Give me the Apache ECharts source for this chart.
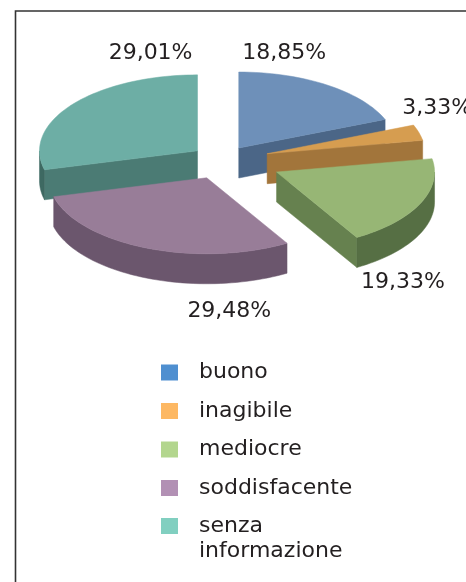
<!DOCTYPE html>
<html>
<head>
<meta charset="utf-8">
<script src="https://cdn.jsdelivr.net/npm/echarts@6/dist/echarts.min.js"></script>
<style>
html, body { margin: 0; padding: 0; background: #fff; }
#chart { width: 466px; height: 582px; }
</style>
</head>
<body>
<div id="chart"></div>
<script>
// dati
const categories = ['buono', 'inagibile', 'mediocre', 'soddisfacente', 'senza informazione']
const shares = [18.85, 3.33, 19.33, 29.48, 29.01]

// colori: faccia superiore, pareti radiali, bordo esterno, legenda
const topColors = ['#6e90b9', '#d69d50', '#97b675', '#987d98', '#6daea5']
const sideColors = ['#4b6687', '#a2753b', '#66814f', '#6b566d', '#4b7b74']
const rimColors = ['#4b6687', '#a2753b', '#566f44', '#6b566d', '#3e6962']
const legendColors = ['#4f8fd0', '#fdb863', '#b3d68e', '#b290b4', '#81cfc0']

// layout della torta 3d (stile, non dati)
const CX = 222, CY = 160, RX = 158, RY = 76, DEPTH = 30
const explode = [30, 47, 60, 40, 31]
const labelAngle = [13, 61, 143, 174, 347]
const labelRadius = [1.28, 1.23, 1.33, 1.37, 1.32]
const drawOrder = [0, 4, 1, 2, 3]

const total = shares.reduce((a, b) => a + b, 0)
const startDeg = []
let acc = 0
shares.forEach(v => { startDeg.push(acc / total * 360); acc += v })

const rad = d => d * Math.PI / 180

// disegna una fetta con pareti e faccia superiore
const renderSlice = (params, api) => {
    const i = params.seriesIndex
    const value = api.value(0)
    const a0 = startDeg[i]
    const a1 = a0 + value / total * 360
    const m = rad((a0 + a1) / 2)
    const cx = CX + explode[i] * Math.sin(m)
    const cy = CY - explode[i] * Math.cos(m) * RY / RX
    const pt = (deg, dz) => [cx + RX * Math.sin(rad(deg)), cy - RY * Math.cos(rad(deg)) + (dz || 0)]
    const arc = (from, to, dz) => {
        const pts = []
        const n = Math.max(2, Math.ceil(Math.abs(to - from) / 2))
        for (let k = 0; k <= n; k++) pts.push(pt(from + (to - from) * k / n, dz))
        return pts
    }
    const children = []
    const poly = (points, fill) => children.push({
        type: 'polygon',
        shape: { points },
        style: { fill, stroke: fill, lineWidth: 0.5 }
    })
    // pareti radiali visibili
    if (Math.sin(rad(a0)) < -1e-6) poly([[cx, cy], pt(a0), pt(a0, DEPTH), [cx, cy + DEPTH]], sideColors[i])
    if (Math.sin(rad(a1)) > 1e-6) poly([[cx, cy], pt(a1), pt(a1, DEPTH), [cx, cy + DEPTH]], sideColors[i])
    // parete esterna (solo metà frontale)
    const f = Math.max(a0, 90), t = Math.min(a1, 270)
    if (t > f) poly(arc(f, t, 0).concat(arc(t, f, DEPTH)), rimColors[i])
    // faccia superiore
    poly([[cx, cy]].concat(arc(a0, a1, 0)), topColors[i])
    // etichetta percentuale
    const la = rad(labelAngle[i])
    const lr = labelRadius[i]
    let ly = cy - lr * RY * Math.cos(la)
    if (Math.cos(la) < 0) ly += DEPTH
    children.push({
        type: 'text',
        x: cx + lr * RX * Math.sin(la),
        y: ly,
        style: {
            text: value.toFixed(2).replace('.', ',') + '%',
            fill: '#231f20',
            font: '22px "DejaVu Sans"',
            align: 'center',
            verticalAlign: 'middle'
        }
    })
    return { type: 'group', children }
}

const legendBase = {
    orient: 'vertical',
    left: 161,
    padding: 0,
    itemWidth: 17,
    itemGap: 13.5,
    selectedMode: false,
    formatter: name => name.replace(' ', '\n'),
    textStyle: {
        fontFamily: 'DejaVu Sans',
        fontSize: 22,
        lineHeight: 25,
        color: '#231f20',
        padding: [0, 0, 0, 16]
    }
}
const legendItem = i => ({ name: categories[i], itemStyle: { color: legendColors[i] } })

const chart = echarts.init(document.getElementById('chart'))
chart.setOption({
    animation: false,
    graphic: [{
        type: 'polyline',
        shape: { points: [[15.5, 582], [15.5, 11], [466, 11]] },
        style: { stroke: '#333', lineWidth: 1.6, fill: null }
    }],
    legend: [
        {
            ...legendBase,
            top: 360,
            itemHeight: 16,
            icon: 'rect',
            data: [0, 1, 2, 3].map(legendItem)
        },
        {
            // voce su due righe: quadratino in alto, allineato alla prima riga
            ...legendBase,
            top: 513.5,
            itemHeight: 41,
            icon: 'path://M0,0H17V16H0Z M0,41L17,41',
            data: [legendItem(4)]
        }
    ],
    series: categories.map((name, i) => ({
        type: 'custom',
        name,
        coordinateSystem: 'none',
        z: 2 + drawOrder.indexOf(i),
        silent: true,
        itemStyle: { color: legendColors[i] },
        data: [[shares[i]]],
        renderItem: renderSlice
    }))
})
</script>
</body>
</html>
